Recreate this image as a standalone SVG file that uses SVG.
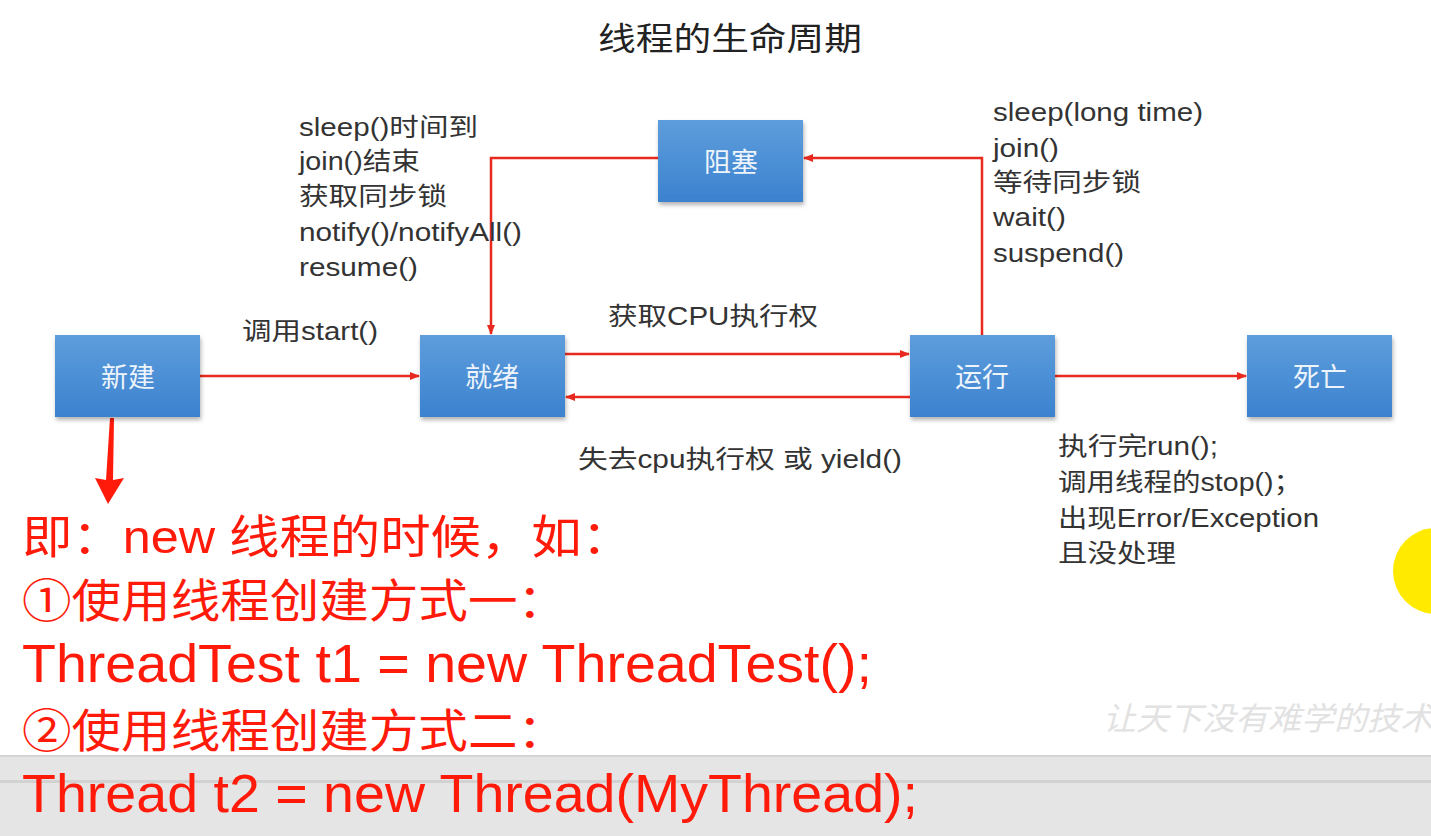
<svg xmlns="http://www.w3.org/2000/svg" width="1431" height="836" viewBox="0 0 1431 836">
<style>
.lbl{font-family:"Liberation Sans","Noto Sans CJK SC",sans-serif;font-size:25px;fill:#333;}
.box{fill:url(#bg);filter:url(#sh);}
.bt{font-family:"Noto Sans CJK SC",sans-serif;font-size:27px;fill:#eef4fb;text-anchor:middle;}
.con{stroke:#e8291f;stroke-width:2.5;fill:none;marker-end:url(#ah);}
.big{font-family:"Liberation Sans","Noto Sans CJK SC",sans-serif;font-size:46px;fill:#ff1a0a;}
.bigl{font-family:"Liberation Sans","Noto Sans CJK SC",sans-serif;font-size:54px;fill:#ff1a0a;}
</style>
<defs>
<linearGradient id="bg" x1="0" y1="0" x2="0" y2="1">
<stop offset="0" stop-color="#5e9ddc"/>
<stop offset="1" stop-color="#3b82cf"/>
</linearGradient>
<filter id="sh" x="-10%" y="-10%" width="125%" height="130%">
<feDropShadow dx="1" dy="3" stdDeviation="2" flood-color="#000" flood-opacity="0.3"/>
</filter>
<marker id="ah" markerWidth="10" markerHeight="8" refX="9" refY="4" orient="auto" markerUnits="userSpaceOnUse">
<path d="M0,0 L10,4 L0,8 Z" fill="#e8291f"/>
</marker>
</defs>
<rect width="1431" height="836" fill="#fff"/>
<rect x="0" y="755" width="1431" height="81" fill="#e5e5e5"/>
<rect x="0" y="755" width="1431" height="2" fill="#d4d4d4"/>
<rect x="0" y="780" width="1431" height="3" fill="#d2d2d2"/>
<circle cx="1436" cy="571" r="43" fill="#ffea00"/>
<text x="1103" y="730" textLength="330" lengthAdjust="spacingAndGlyphs" style="font-family:'Noto Sans CJK SC',sans-serif;font-size:32px;fill:#e2e2e2;font-style:italic">让天下没有难学的技术</text>
<text x="598" y="50" textLength="264" lengthAdjust="spacingAndGlyphs" style="font-family:'Noto Sans CJK SC',sans-serif;font-size:32px;fill:#222">线程的生命周期</text>
<g id="connectors">
<path class="con" d="M200,376 H419"/>
<path class="con" d="M565,354 H909"/>
<path class="con" d="M910,397 H566"/>
<path class="con" d="M1055,376 H1246"/>
<path class="con" d="M982,335 V158 H804"/>
<path class="con" d="M658,158 H491 V334"/>
<path d="M110,418 L114,418 L113,480 L124,478 L108,504 L95,478 L106,480 Z" fill="#ff1a0a"/>
</g>
<g id="n-new"><rect class="box" x="55" y="335" width="145" height="82"/><text class="bt" x="128" y="387">新建</text></g>
<g id="n-ready"><rect class="box" x="420" y="335" width="145" height="82"/><text class="bt" x="492" y="387">就绪</text></g>
<g id="n-run"><rect class="box" x="910" y="335" width="145" height="82"/><text class="bt" x="982" y="387">运行</text></g>
<g id="n-dead"><rect class="box" x="1247" y="335" width="145" height="82"/><text class="bt" x="1320" y="387">死亡</text></g>
<g id="n-block"><rect class="box" x="658" y="120" width="145" height="82"/><text class="bt" x="731" y="172">阻塞</text></g>
<g id="labels">
<text class="lbl" x="299" y="136" textLength="179" lengthAdjust="spacingAndGlyphs">sleep()时间到</text>
<text class="lbl" x="299" y="170" textLength="121" lengthAdjust="spacingAndGlyphs">join()结束</text>
<text class="lbl" x="299" y="205" textLength="148" lengthAdjust="spacingAndGlyphs">获取同步锁</text>
<text class="lbl" x="299" y="241" textLength="223" lengthAdjust="spacingAndGlyphs">notify()/notifyAll()</text>
<text class="lbl" x="299" y="276" textLength="119" lengthAdjust="spacingAndGlyphs">resume()</text>
<text class="lbl" x="993" y="121" textLength="210" lengthAdjust="spacingAndGlyphs">sleep(long time)</text>
<text class="lbl" x="993" y="157" textLength="66" lengthAdjust="spacingAndGlyphs">join()</text>
<text class="lbl" x="993" y="191" textLength="148" lengthAdjust="spacingAndGlyphs">等待同步锁</text>
<text class="lbl" x="993" y="226" textLength="73" lengthAdjust="spacingAndGlyphs">wait()</text>
<text class="lbl" x="993" y="262" textLength="131" lengthAdjust="spacingAndGlyphs">suspend()</text>
<text class="lbl" x="242" y="340" textLength="136" lengthAdjust="spacingAndGlyphs">调用start()</text>
<text class="lbl" x="608" y="325" textLength="210" lengthAdjust="spacingAndGlyphs">获取CPU执行权</text>
<text class="lbl" x="578" y="468" textLength="324" lengthAdjust="spacingAndGlyphs">失去cpu执行权 或 yield()</text>
<text class="lbl" x="1058" y="455" textLength="160" lengthAdjust="spacingAndGlyphs">执行完run();</text>
<text class="lbl" x="1058" y="491" textLength="244" lengthAdjust="spacingAndGlyphs">调用线程的stop()；</text>
<text class="lbl" x="1058" y="527" textLength="261" lengthAdjust="spacingAndGlyphs">出现Error/Exception</text>
<text class="lbl" x="1058" y="562" textLength="118" lengthAdjust="spacingAndGlyphs">且没处理</text>
</g>
<g id="notes">
<text class="big" x="22" y="553" textLength="610" lengthAdjust="spacingAndGlyphs">即：new 线程的时候，如：</text>
<text class="big" x="22" y="617" textLength="545" lengthAdjust="spacingAndGlyphs">①使用线程创建方式一：</text>
<text class="bigl" x="22" y="682" textLength="850" lengthAdjust="spacingAndGlyphs">ThreadTest t1 = new ThreadTest();</text>
<text class="big" x="22" y="747" textLength="545" lengthAdjust="spacingAndGlyphs">②使用线程创建方式二：</text>
<text class="bigl" x="22" y="812" textLength="896" lengthAdjust="spacingAndGlyphs">Thread t2 = new Thread(MyThread);</text>
</g>
</svg>
